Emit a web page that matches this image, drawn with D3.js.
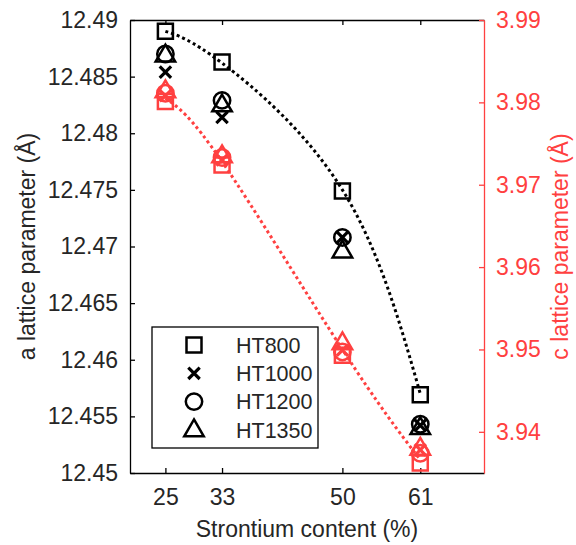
<!DOCTYPE html>
<meta charset="utf-8">
<title>Lattice parameters vs strontium content</title>
<style>
    body { margin: 0; background: #fff; }
    svg text { font-family: "Liberation Sans", Arial, sans-serif; }
</style>
<body>
<div id="my_chart"></div>
<script src="https://d3js.org/d3.v7.min.js"></script>
<script>

// x positions (strontium content, %)
var strontium = [25, 33, 50, 61];
var seriesNames = ["HT800", "HT1000", "HT1200", "HT1350"];
var shapes = ["square", "times", "circle", "triangle"];

// a lattice parameter (left axis)
var aHT800 = [12.4890, 12.4863, 12.4749, 12.4569];
var aHT1000 = [12.4854, 12.4814, 12.4708, 12.4542];
var aHT1200 = [12.4870, 12.4829, 12.4708, 12.4543];
var aHT1350 = [12.4869, 12.4825, 12.4696, 12.4540];

// c lattice parameter (right axis)
var cHT800 = [3.9801, 3.9724, 3.9493, 3.9362];
var cHT1000 = [3.9808, 3.9730, 3.9499, 3.9378];
var cHT1200 = [3.9811, 3.9733, 3.9497, 3.9374];
var cHT1350 = [3.9814, 3.9735, 3.9508, 3.9380];

// dotted guide curves
var aFit = [12.4890, 12.4862, 12.4750, 12.4570];
var cFit = [3.9805, 3.9728, 3.9500, 3.9366];

// tick labels
var xTicks = [25, 33, 50, 61];
var aTicks = ["12.45", "12.455", "12.46", "12.465", "12.47", "12.475", "12.48", "12.485", "12.49"];
var cTicks = ["3.94", "3.95", "3.96", "3.97", "3.98", "3.99"];

var aSeries = [aHT800, aHT1000, aHT1200, aHT1350];
var cSeries = [cHT800, cHT1000, cHT1200, cHT1350];

var black = "#000";
var red = "#ff4040";
var textCol = "#262626";

var margin = { top: 20, right: 92, bottom: 72, left: 130 },
    width = 576 - margin.left - margin.right,
    height = 545 - margin.top - margin.bottom;

var x = d3.scaleLinear().domain([20, 70]).range([0, width]);
var yA = d3.scaleLinear().domain([12.45, 12.49]).range([height, 0]);
var yC = d3.scaleLinear().domain([3.935, 3.99]).range([height, 0]);

var svg = d3.select("#my_chart")
    .append("svg")
    .attr("width", 576)
    .attr("height", 545)
    .append("g")
    .attr("transform", "translate(" + margin.left + "," + margin.top + ")");

// marker path generator
function marker(shape, s) {
    var p = d3.path();
    if (shape == "square") {
        p.rect(-s / 2, -s / 2, s, s);
    } else if (shape == "circle") {
        p.arc(0, 0, s / 2 + 0.7, 0, 2 * Math.PI);
    } else if (shape == "triangle") {
        var w = s * 1.3, h = s * 1.12;
        p.moveTo(0, -h * 0.62);
        p.lineTo(w / 2, h * 0.38);
        p.lineTo(-w / 2, h * 0.38);
        p.closePath();
    } else {
        var r = s * 0.38;
        p.moveTo(-r, -r); p.lineTo(r, r);
        p.moveTo(r, -r); p.lineTo(-r, r);
    }
    return p.toString();
}

// axes (ticks inside, box style)
var xAxisB = svg.append("g")
    .attr("transform", "translate(0," + height + ")")
    .call(d3.axisBottom(x).tickValues(xTicks).tickSizeInner(-5).tickSizeOuter(0).tickPadding(16));
var xAxisT = svg.append("g")
    .call(d3.axisTop(x).tickValues(xTicks).tickSizeInner(-5).tickSizeOuter(0).tickFormat(""));
var yAxisL = svg.append("g")
    .call(d3.axisLeft(yA).tickValues(aTicks.map(Number)).tickFormat(function (d, i) { return aTicks[i]; })
        .tickSizeInner(-5).tickSizeOuter(0).tickPadding(12));
var yAxisR = svg.append("g")
    .attr("transform", "translate(" + width + ",0)")
    .call(d3.axisRight(yC).tickValues(cTicks.map(Number)).tickFormat(function (d, i) { return cTicks[i]; })
        .tickSizeInner(-5).tickSizeOuter(0).tickPadding(12));

[xAxisB, xAxisT, yAxisL].forEach(function (g) {
    g.select(".domain").attr("stroke", black).attr("stroke-width", 1.3);
    g.selectAll(".tick line").attr("stroke", black).attr("stroke-width", 1.3);
    g.selectAll(".tick text").attr("fill", textCol).attr("font-size", "23px");
});
yAxisR.select(".domain").attr("stroke", red).attr("stroke-width", 1.3);
yAxisR.selectAll(".tick line").attr("stroke", red).attr("stroke-width", 1.3);
yAxisR.selectAll(".tick text").attr("fill", red).attr("font-size", "23px");

// axis titles
svg.append("text")
    .attr("x", width / 2)
    .attr("y", height + 64)
    .attr("text-anchor", "middle")
    .attr("font-size", "23px")
    .attr("fill", textCol)
    .text("Strontium content (%)");

svg.append("text")
    .attr("transform", "translate(" + (-103) + "," + (height / 2) + ") rotate(-90)")
    .attr("text-anchor", "middle")
    .attr("dy", "0.35em")
    .attr("font-size", "23px")
    .attr("fill", textCol)
    .text("a lattice parameter (Å)");

svg.append("text")
    .attr("transform", "translate(" + (width + 76) + "," + (height / 2) + ") rotate(-90)")
    .attr("text-anchor", "middle")
    .attr("dy", "0.35em")
    .attr("font-size", "23px")
    .attr("fill", red)
    .text("c lattice parameter (Å)");

// markers: black (a) first, then red (c)
function drawMarkers(series, yScale, color) {
    series.forEach(function (vals, si) {
        svg.append("g")
            .selectAll("path")
            .data(vals)
            .enter()
            .append("path")
            .attr("transform", function (d, i) { return "translate(" + x(strontium[i]) + "," + yScale(d) + ")"; })
            .attr("d", marker(shapes[si], 15))
            .attr("fill", "none")
            .attr("stroke", color)
            .attr("stroke-width", si == 1 ? 3.2 : 2.5);
    });
}
drawMarkers(aSeries, yA, black);
drawMarkers(cSeries, yC, red);

// dotted guide curves
var aLine = d3.line()
    .curve(d3.curveNatural)
    .x(function (d, i) { return x(strontium[i]); })
    .y(function (d) { return yA(d); });
var cLine = d3.line()
    .curve(d3.curveNatural)
    .x(function (d, i) { return x(strontium[i]); })
    .y(function (d) { return yC(d); });

svg.append("path")
    .datum(aFit)
    .attr("d", aLine)
    .attr("fill", "none")
    .attr("stroke", black)
    .attr("stroke-width", 3)
    .attr("stroke-dasharray", "3,3");
svg.append("path")
    .datum(cFit)
    .attr("d", cLine)
    .attr("fill", "none")
    .attr("stroke", red)
    .attr("stroke-width", 3)
    .attr("stroke-dasharray", "3,3");

// legend
var legend = svg.append("g").attr("transform", "translate(22,307)");
legend.append("rect")
    .attr("width", 166)
    .attr("height", 121)
    .attr("fill", "#fff")
    .attr("stroke", black)
    .attr("stroke-width", 1.3);
seriesNames.forEach(function (name, i) {
    var yy = 18 + i * 28.3;
    legend.append("path")
        .attr("transform", "translate(42," + yy + ")")
        .attr("d", marker(shapes[i], 15))
        .attr("fill", "none")
        .attr("stroke", black)
        .attr("stroke-width", i == 1 ? 3.2 : 2.5);
    legend.append("text")
        .attr("x", 84)
        .attr("y", yy)
        .attr("dy", "0.36em")
        .attr("font-size", "21.5px")
        .attr("fill", textCol)
        .text(name);
});

</script>
</body>
